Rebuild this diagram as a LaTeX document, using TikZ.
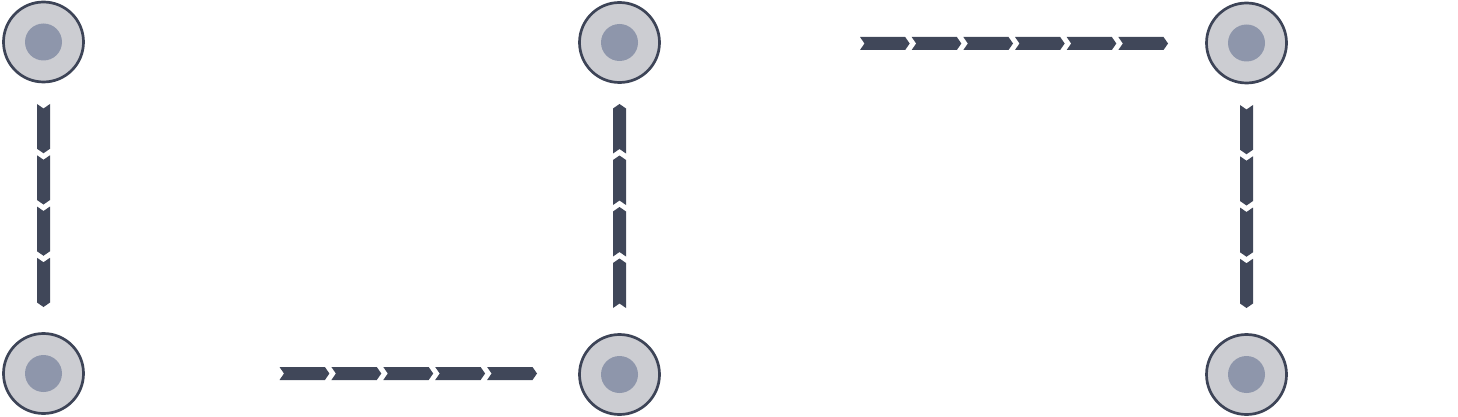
\documentclass[tikz,border=0pt]{standalone}
\usetikzlibrary{decorations.markings}
\definecolor{chevc}{HTML}{404759}
\definecolor{ringfill}{HTML}{CCCDD2}
\definecolor{ringline}{HTML}{3D4457}
\definecolor{dotc}{HTML}{8E96AB}
\tikzset{
  hub/.style={circle, draw=ringline, fill=ringfill, line width=2.7pt,
    minimum size=80pt, inner sep=0pt,
    path picture={\fill[dotc] (path picture bounding box.center) circle (18.5pt);}},
  chevs/.style={decorate, decoration={markings,
    mark=between positions 0 and 0.99 step #1 with {
      \pgfmathsetmacro\tipx{\pgfdecoratedpathlength*#1-2}
      \pgfmathsetmacro\fx{\tipx-4.5}
      \fill[chevc] (0pt,6.5pt) -- (4.5pt,0pt) -- (0pt,-6.5pt) -- (\fx pt,-6.5pt)
        -- (\tipx pt,0pt) -- (\fx pt,6.5pt) -- cycle;}}}
}
\begin{document}
\begin{tikzpicture}[x=1pt,y=-1pt]
\useasboundingbox (0,0) rectangle (1458,417);
% nodes
\node[hub] (n1) at (43.5,42) {};
\node[hub] (n2) at (43.5,373.5) {};
\node[hub] (n3) at (619.5,42.5) {};
\node[hub] (n4) at (619.5,374.5) {};
\node[hub] (n5) at (1246.5,43) {};
\node[hub] (n6) at (1246.5,374.5) {};
% connector end points
\coordinate (a1) at (43.5,104);
\coordinate (a2) at (43.5,309);
\coordinate (b1) at (619.5,308);
\coordinate (b2) at (619.5,102);
\coordinate (c1) at (1246.5,105);
\coordinate (c2) at (1246.5,310);
\coordinate (d1) at (279.5,373.5);
\coordinate (d2) at (539,373.5);
\coordinate (e1) at (860,43.5);
\coordinate (e2) at (1170,43.5);
% connectors
\path[chevs=0.25] (a1) -- (a2);
\path[chevs=0.25] (b1) -- (b2);
\path[chevs=0.25] (c1) -- (c2);
\path[chevs=0.2] (d1) -- (d2);
\path[chevs=0.166667] (e1) -- (e2);
\end{tikzpicture}
\end{document}
